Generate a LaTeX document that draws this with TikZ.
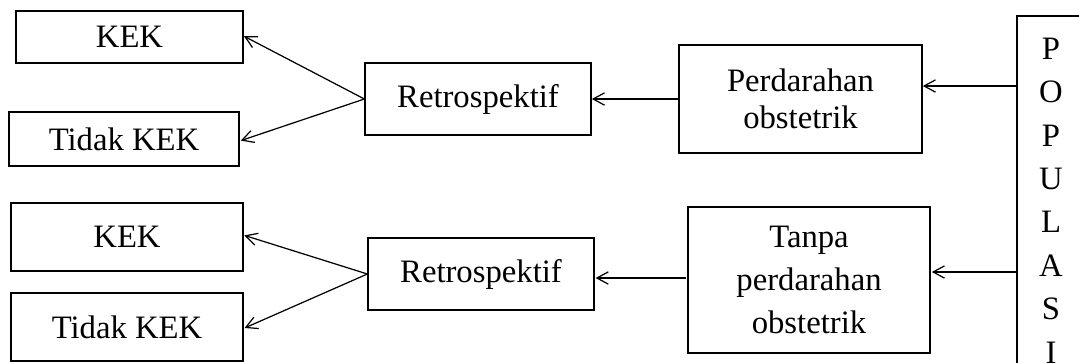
\documentclass[tikz,border=0pt]{standalone}
\usepackage{fontspec}
\setmainfont{Liberation Serif}
\usetikzlibrary{arrows.meta}

\tikzset{
  box/.style={draw, line width=0.7pt, inner sep=0pt, align=center,
    font=\fontsize{18.6}{21}\selectfont},
  link/.style={-{Straight Barb[length=6.5pt,width=7pt]}, line width=0.7pt},
}

\begin{document}
\begin{tikzpicture}[scale=0.2]
\clip (0,0) rectangle (107.9,-36.2);
% outcome boxes
\node [box, minimum width=4.54cm, minimum height=1.04cm] (kek1) at (12.95,-3.7) {KEK};
\node [box, minimum width=4.6cm, minimum height=1.08cm] (tidak1) at (12.4,-13.9) {Tidak KEK};
\node [box, minimum width=4.64cm, minimum height=1.36cm] (kek2) at (12.7,-23.7) {KEK};
\node [box, minimum width=4.64cm, minimum height=1.36cm] (tidak2) at (12.7,-32.7) {Tidak KEK};
% study design
\node [box, minimum width=4.52cm, minimum height=1.44cm] (retro1) at (47.8,-9.9) {Retrospektif};
\node [box, minimum width=4.52cm, minimum height=1.44cm] (retro2) at (48.1,-27.4) {Retrospektif};
% groups
\node [box, minimum width=4.86cm, minimum height=2.16cm] (perd) at (80.05,-9.9) {Perdarahan\\obstetrik};
\node [box, minimum width=4.84cm, minimum height=2.92cm,
  font=\fontsize{18.6}{24.5}\selectfont] (tanpa) at (80.9,-28.0) {Tanpa\\perdarahan\\obstetrik};
\node [box, minimum width=1.36cm, minimum height=7.38cm,
  font=\fontsize{18.6}{24.7}\selectfont] (pop) at (105.1,-20.05) {P\\O\\P\\U\\L\\A\\S\\I};
% connectors
\draw [link] (pop.west |- 0,-8.6) -- ([xshift=0.02cm]perd.east |- 0,-8.6);
\draw [link] (pop.west |- 0,-27.2) -- ([xshift=0.12cm]tanpa.east |- 0,-27.2);
\draw [link] (perd.west) -- ([xshift=0.02cm]retro1.east);
\draw [link] ([xshift=-0.1cm]tanpa.west |- 0,-27.8) -- ([xshift=0.1cm]retro2.east |- 0,-27.8);
\draw [link] (retro1.west) -- ([xshift=0.04cm,yshift=0.08cm]kek1.east);
\draw [link] (retro1.west) -- ([xshift=0.12cm,yshift=-0.16cm]tidak1.east);
\draw [link] (retro2.west) -- ([xshift=0.08cm,yshift=0.16cm]kek2.east);
\draw [link] (retro2.west) -- ([xshift=0.1cm,yshift=-0.1cm]tidak2.east);
\end{tikzpicture}
\end{document}
